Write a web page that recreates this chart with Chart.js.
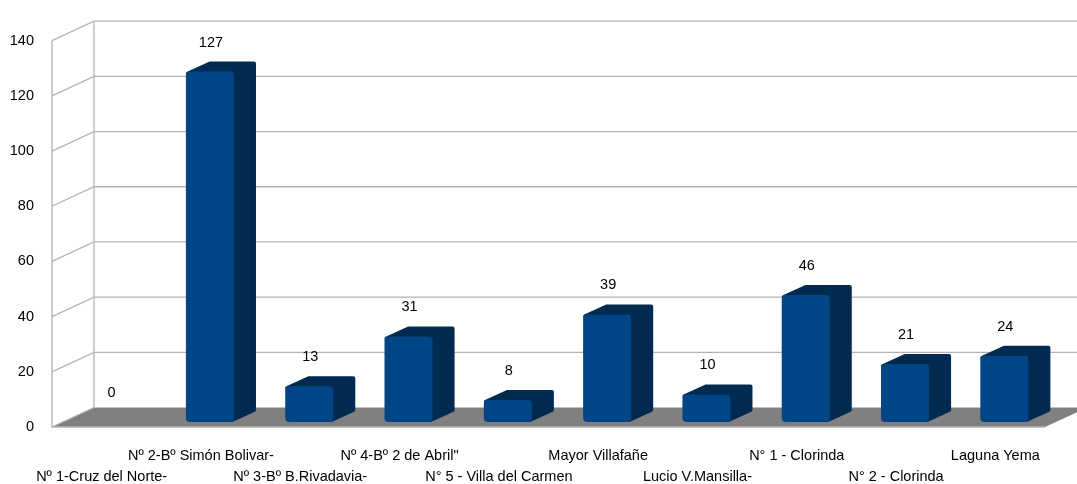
<!DOCTYPE html>
<html>
<head>
<meta charset="utf-8">
<title>Chart</title>
<script src="https://cdn.jsdelivr.net/npm/chart.js@4"></script>
<style>
  html, body { margin: 0; padding: 0; background: #fff; overflow: hidden; }
  canvas { display: block; }
</style>
</head>
<body>
<canvas id="chart" width="1077" height="484"></canvas>
<script>
const categories = [
  'Nº 1-Cruz del Norte-', 'Nº 2-Bº Simón Bolivar-', 'Nº 3-Bº B.Rivadavia-',
  'Nº 4-Bº 2 de Abril"', 'N° 5 - Villa del Carmen', 'Mayor Villafañe',
  'Lucio V.Mansilla-', 'N° 1 - Clorinda', 'N° 2 - Clorinda', 'Laguna Yema'
];
const values = [0, 127, 13, 31, 8, 39, 10, 46, 21, 24];
const yMax = 140;
const yStep = 20;

const FONT = '14.5px "Liberation Sans", Arial, sans-serif';
const GRID = '#b3b3b3';

// the bars stand in a plane between the front edge and the back wall
const FRONT = { x: -9, y: 5 };
const BACK = { x: 33, y: -14.5 };
const SIDE = { x: 22, y: -10 };

const wallPlugin = {
  id: 'wall',
  beforeDatasetsDraw(chart) {
    const ctx = chart.ctx;
    const { x: xScale, y: yScale } = chart.scales;
    const y0 = yScale.getPixelForValue(0);
    const yTop = yScale.getPixelForValue(yMax);
    const left = xScale.left;
    const right = xScale.right;

    ctx.save();
    ctx.strokeStyle = GRID;
    ctx.lineWidth = 1.3;

    // floor
    ctx.fillStyle = '#808080';
    ctx.beginPath();
    ctx.moveTo(left + FRONT.x, y0 + FRONT.y);
    ctx.lineTo(left + BACK.x, y0 + BACK.y);
    ctx.lineTo(right + BACK.x, y0 + BACK.y);
    ctx.lineTo(right + FRONT.x, y0 + FRONT.y);
    ctx.closePath();
    ctx.fill();

    // wall edges
    ctx.beginPath();
    ctx.moveTo(left + FRONT.x, yTop + FRONT.y);
    ctx.lineTo(left + FRONT.x, y0 + FRONT.y);
    ctx.lineTo(right + FRONT.x, y0 + FRONT.y);
    ctx.moveTo(left + BACK.x, yTop + BACK.y);
    ctx.lineTo(left + BACK.x, y0 + BACK.y);
    ctx.stroke();

    // grid lines, back wall and side wall
    yScale.ticks.forEach(t => {
      const py = yScale.getPixelForValue(t.value);
      ctx.beginPath();
      ctx.moveTo(left + FRONT.x, py + FRONT.y);
      ctx.lineTo(left + BACK.x, py + BACK.y);
      if (t.value > 0) ctx.lineTo(right + BACK.x, py + BACK.y);
      ctx.stroke();
    });
    ctx.restore();
  }
};

const bar3dPlugin = {
  id: 'bar3d',
  beforeDatasetDraw(chart) {
    const ctx = chart.ctx;
    ctx.save();
    ctx.lineJoin = 'round';
    ctx.lineWidth = 4;
    chart.getDatasetMeta(0).data.forEach((bar, i) => {
      if (!values[i]) return;
      const half = bar.width / 2;
      const l = bar.x - half + 2;
      const r = bar.x + half - 2;
      const top = bar.y + 2;
      const bottom = bar.base - 2;
      ctx.fillStyle = ctx.strokeStyle = '#002a50';
      ctx.beginPath();
      ctx.moveTo(l, top);
      ctx.lineTo(l + SIDE.x, top + SIDE.y);
      ctx.lineTo(r + SIDE.x, top + SIDE.y);
      ctx.lineTo(r + SIDE.x, bottom + SIDE.y);
      ctx.lineTo(r, bottom);
      ctx.lineTo(r, top);
      ctx.closePath();
      ctx.fill();
      ctx.stroke();
    });
    ctx.restore();
  },
  afterDatasetsDraw(chart) {
    const ctx = chart.ctx;
    ctx.save();
    ctx.font = FONT;
    ctx.fillStyle = '#000';
    ctx.textAlign = 'center';
    ctx.textBaseline = 'middle';
    chart.getDatasetMeta(0).data.forEach((bar, i) => {
      ctx.fillText(String(values[i]), bar.x + 1, bar.y - 29);
    });
    ctx.restore();
  }
};

new Chart(document.getElementById('chart'), {
  type: 'bar',
  data: {
    labels: categories,
    datasets: [{
      data: values,
      backgroundColor: '#004586',
      borderRadius: 4,
      borderSkipped: false,
      barPercentage: 0.484,
      categoryPercentage: 1
    }]
  },
  options: {
    responsive: false,
    animation: false,
    layout: { padding: { top: 27, right: 23, left: 0, bottom: 0 } },
    plugins: { legend: { display: false }, tooltip: { enabled: false } },
    scales: {
      x: {
        grid: { display: false, drawTicks: false },
        border: { display: false },
        afterFit(scale) { scale.height = 62; },
        ticks: {
          autoSkip: false,
          maxRotation: 0,
          minRotation: 0,
          padding: 23,
          labelOffset: FRONT.x,
          color: '#000',
          font: { family: '"Liberation Sans", Arial, sans-serif', size: 14.5, lineHeight: 1.45 },
          // every second label drops to a lower row
          callback(value, index) {
            return index % 2 === 0 ? ['', categories[index]] : [categories[index], ''];
          }
        }
      },
      y: {
        min: 0,
        max: yMax,
        grid: { display: false, drawTicks: false },
        border: { display: false },
        afterFit(scale) { scale.width = 61; },
        ticks: {
          stepSize: yStep,
          padding: 27,
          labelOffset: FRONT.y,
          color: '#000',
          font: { family: '"Liberation Sans", Arial, sans-serif', size: 14.5 }
        }
      }
    }
  },
  plugins: [wallPlugin, bar3dPlugin]
});
</script>
</body>
</html>
